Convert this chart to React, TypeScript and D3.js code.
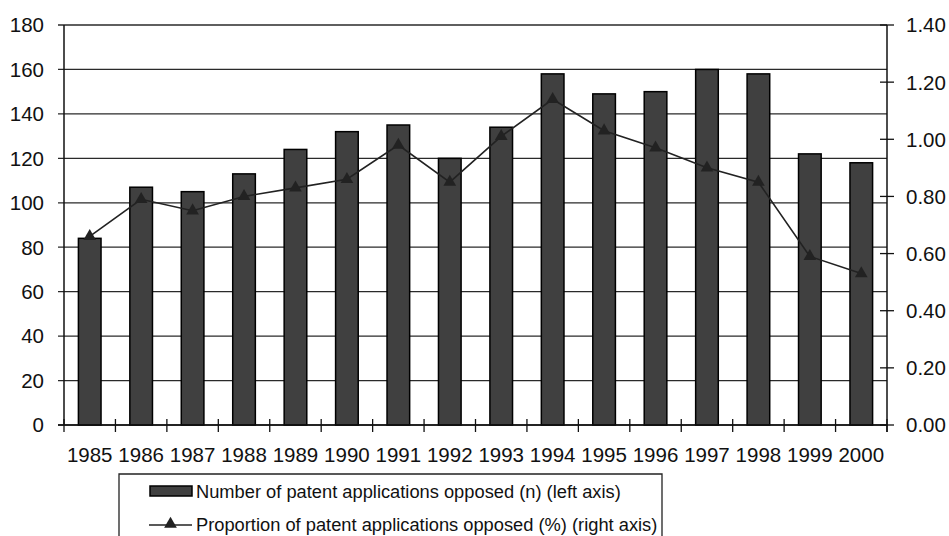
import React from "react";
import * as d3 from "d3";

const years = ["1985","1986","1987","1988","1989","1990","1991","1992","1993","1994","1995","1996","1997","1998","1999","2000"];
const opposedCounts = [84,107,105,113,124,132,135,120,134,158,149,150,160,158,122,118];
const opposedShare = [0.66,0.79,0.75,0.80,0.83,0.86,0.98,0.85,1.01,1.14,1.03,0.97,0.90,0.85,0.59,0.53];
const leftTicks = [0,20,40,60,80,100,120,140,160,180];
const rightTicks = [0,0.2,0.4,0.6,0.8,1.0,1.2,1.4];
const legendLabels = [
  "Number of patent applications opposed (n) (left axis)",
  "Proportion of patent applications opposed (%) (right axis)",
];

const W = 949, H = 536;
const M = { left: 64, right: 887, top: 25, bottom: 425 };
const FONT = "'Liberation Sans', Arial, Helvetica, sans-serif";

export default function App() {
  const x = d3.scaleBand<string>().domain(years).range([M.left, M.right]).paddingInner(0.56).paddingOuter(0.28);
  const yL = d3.scaleLinear().domain([0, 180]).range([M.bottom, M.top]);
  const yR = d3.scaleLinear().domain([0, 1.4]).range([M.bottom, M.top]);
  const step = x.step();
  const cx = (y: string) => (x(y) as number) + x.bandwidth() / 2;
  const line = d3.line<number>().x((_, i) => cx(years[i])).y((d) => yR(d));
  const tri = d3.symbol().type(d3.symbolTriangle).size(70)();
  const boundaries = d3.range(years.length + 1).map((i) => M.left + i * step);

  return (
    <svg width={W} height={H} style={{ position: "absolute", left: 0, top: 0, background: "#fff" }} fontFamily={FONT}>
      {leftTicks.map((t) => (
        <g key={t}>
          <line x1={M.left - 6} x2={M.right} y1={yL(t)} y2={yL(t)} stroke="#2a2a2a" strokeWidth={1.3} />
          <text x={44} y={yL(t)} dy="0.36em" textAnchor="end" fontSize={20.5} fill="#111">{t}</text>
        </g>
      ))}
      {opposedCounts.map((v, i) => (
        <rect key={years[i]} x={x(years[i])} y={yL(v)} width={x.bandwidth()} height={yL(0) - yL(v)}
          fill="#404040" stroke="#000" strokeWidth={1.5} />
      ))}
      <line x1={M.left} x2={M.left} y1={M.top} y2={M.bottom} stroke="#111" strokeWidth={1.5} />
      <line x1={M.right} x2={M.right} y1={M.top} y2={M.bottom + 7} stroke="#111" strokeWidth={1.5} />
      <line x1={M.left - 6} x2={M.right} y1={M.bottom} y2={M.bottom} stroke="#111" strokeWidth={1.5} />
      {boundaries.map((b, i) => (
        <line key={i} x1={b} x2={b} y1={M.bottom - 6} y2={M.bottom + 7} stroke="#111" strokeWidth={1.3} />
      ))}
      {rightTicks.map((t) => (
        <g key={t}>
          <line x1={M.right - 7} x2={M.right + 7} y1={yR(t)} y2={yR(t)} stroke="#111" strokeWidth={1.3} />
          <text x={906} y={yR(t)} dy="0.36em" textAnchor="start" fontSize={20.5} fill="#111">{t.toFixed(2)}</text>
        </g>
      ))}
      {years.map((y) => (
        <text key={y} x={cx(y)} y={455} dy="0.36em" textAnchor="middle" fontSize={20.5} fill="#111">{y}</text>
      ))}
      <path d={line(opposedShare) || ""} fill="none" stroke="#222" strokeWidth={1.6} />
      {opposedShare.map((v, i) => (
        <path key={i} d={tri || ""} transform={`translate(${cx(years[i])},${yR(v)})`} fill="#222" />
      ))}
      <path d={`M119,${H + 2} V474 H662 V${H + 2}`} fill="none" stroke="#222" strokeWidth={1.3} />
      <rect x={150} y={486} width={42} height={10} fill="#404040" stroke="#000" strokeWidth={1.5} />
      <text x={196} y={491} dy="0.36em" fontSize={18.3} fill="#111">{legendLabels[0]}</text>
      <line x1={149} x2={192} y1={525} y2={525} stroke="#222" strokeWidth={1.6} />
      <path d={tri || ""} transform="translate(170.5,524)" fill="#222" />
      <text x={196} y={524} dy="0.36em" fontSize={18.3} fill="#111">{legendLabels[1]}</text>
    </svg>
  );
}
